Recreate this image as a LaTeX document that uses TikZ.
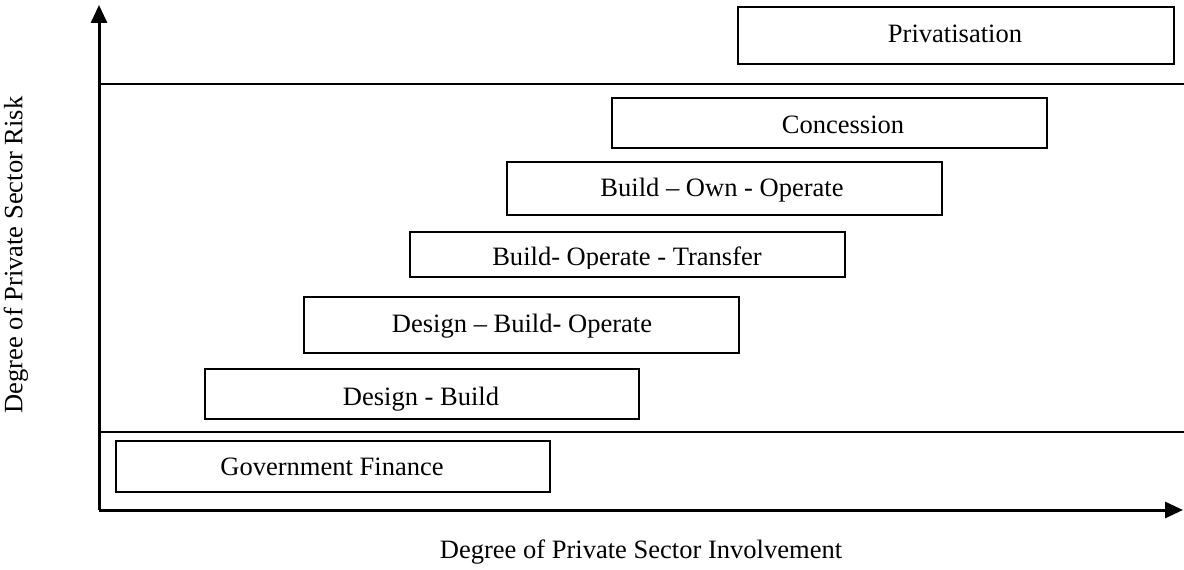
\documentclass[tikz,border=0pt]{standalone}
\usepackage{fontspec}
\setmainfont{Liberation Serif}
\usetikzlibrary{arrows.meta}
\begin{document}
\begin{tikzpicture}[x=0.75pt,y=-0.75pt,
  font=\fontsize{19.9}{24}\selectfont,
  schemebox/.style={draw=black,line width=1.5pt,inner sep=0pt,fill=white},
  lbl/.style={inner sep=0pt,anchor=base},
  axisline/.style={line width=2.25pt,-{Triangle[length=13.5pt,width=12pt]}},
  sepline/.style={line width=1.5pt}]
\useasboundingbox (0,0) rectangle (1184,570);
% axes
\coordinate (origin) at (99,510);
\coordinate (ytip) at (99,5);
\coordinate (xtip) at (1183,510);
\draw[axisline] (origin) -- (ytip);
\draw[axisline] (origin) -- (xtip);
% separator lines
\coordinate (s1a) at (99,84);
\coordinate (s1b) at (1184,84);
\coordinate (s2a) at (99,432);
\coordinate (s2b) at (1184,432);
\draw[sepline] (s1a) -- (s1b);
\draw[sepline] (s2a) -- (s2b);
% boxes
\draw[schemebox] (738,7) rectangle (1174,64);
\node[lbl] (priv) at (955,43) {Privatisation};
\draw[schemebox] (612,98) rectangle (1047,148);
\node[lbl] (conc) at (843,134) {Concession};
\draw[schemebox] (507,162) rectangle (942,215);
\node[lbl] (boo) at (722,197) {Build – Own - Operate};
\draw[schemebox] (410,232) rectangle (845,277);
\begin{scope}
\clip (410,232) rectangle (845,268);
\node[lbl] (bot) at (627,266) {Build- Operate - Transfer};
\end{scope}
\draw[schemebox] (304,297) rectangle (739,353);
\node[lbl] (dbo) at (522,332) {Design – Build- Operate};
\draw[schemebox] (205,369) rectangle (639,419);
\node[lbl] (db) at (421,405) {Design - Build};
\draw[schemebox] (116,441) rectangle (550,492);
\node[lbl] (gf) at (332,475) {Government Finance};
% axis labels
\node[inner sep=0pt] (xlab) at (641,552) {Degree of Private Sector Involvement};
\node[inner sep=0pt,rotate=90] (ylab) at (16,255) {Degree of Private Sector Risk};
\end{tikzpicture}
\end{document}
